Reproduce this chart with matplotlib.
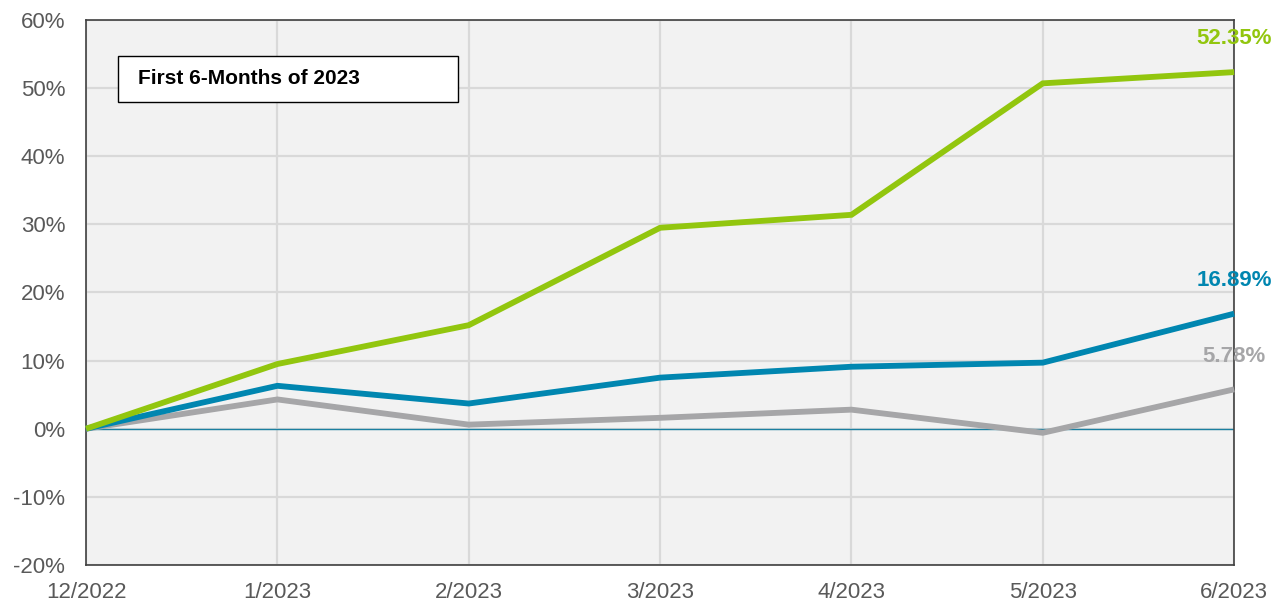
import matplotlib.pyplot as plt
from matplotlib.ticker import FuncFormatter
from matplotlib.patches import Rectangle

months = ['12/2022', '1/2023', '2/2023', '3/2023', '4/2023', '5/2023', '6/2023']
green = [0.0, 9.5, 15.2, 29.5, 31.4, 50.7, 52.35]
blue = [0.0, 6.3, 3.7, 7.5, 9.1, 9.7, 16.89]
gray = [0.0, 4.3, 0.6, 1.6, 2.8, -0.6, 5.78]

c_green = '#92c60e'
c_blue = '#0086b0'
c_gray = '#a6a6a8'

plt.rcParams['font.family'] = ['Liberation Sans', 'DejaVu Sans']

fig = plt.figure(figsize=(12.71, 6.02), dpi=100)
ax = fig.add_axes([0.0677, 0.0615, 0.9033, 0.9053])
ax.set_facecolor('#f2f2f2')

x = list(range(len(months)))
ax.set_xlim(0, len(months) - 1)
ax.set_ylim(-20, 60)
ax.set_yticks(range(-20, 61, 10))
ax.set_xticks(x)
ax.set_xticklabels(months)
ax.yaxis.set_major_formatter(FuncFormatter(lambda v, p: f'{v:.0f}%'))
ax.grid(True, color='#d9d9d9', linewidth=1.6)
ax.set_axisbelow(True)
ax.tick_params(length=0, labelsize=16, colors='#595959')
ax.tick_params(axis='y', pad=15)
ax.tick_params(axis='x', pad=12)
for s in ax.spines.values():
    s.set_color('#404040')
    s.set_linewidth(1.2)

ax.axhline(0, color='#1a7fa0', linewidth=1, zorder=2)

for vals, col in [(gray, c_gray), (blue, c_blue), (green, c_green)]:
    ax.plot(x, vals, color=col, linewidth=4.2, solid_capstyle='butt',
            solid_joinstyle='miter', zorder=3, clip_on=False)
    ax.annotate(f'{vals[-1]:.2f}%', (x[-1], vals[-1]), xytext=(0, 24),
                textcoords='offset points', ha='center', va='center',
                color=col, fontsize=16, fontweight='bold', zorder=4,
                annotation_clip=False)

# title box
box = Rectangle((118 / 1271, 1 - 102 / 602), 340 / 1271, 46 / 602,
                transform=fig.transFigure, facecolor='white',
                edgecolor='black', linewidth=1, zorder=5)
fig.patches.append(box)
fig.text(138 / 1271, 1 - 79 / 602, 'First 6-Months of 2023', fontsize=15,
         fontweight='bold', color='black', va='center', ha='left', zorder=6)

fig.savefig('out.png', dpi=100)
